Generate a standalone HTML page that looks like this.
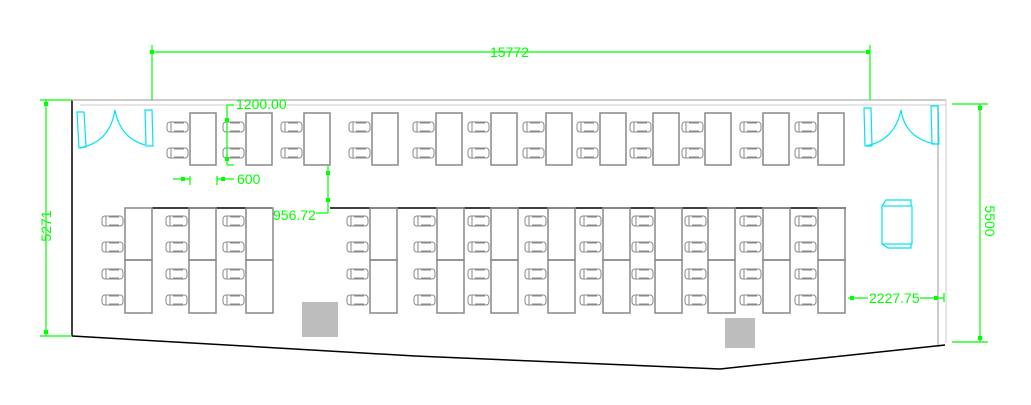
<!DOCTYPE html>
<html><head><meta charset="utf-8"><style>
html,body{margin:0;padding:0;background:#fff;}
svg{display:block;}
text{font-family:"Liberation Sans",sans-serif;font-size:14px;fill:#00ff00;}
</style></head><body>
<svg id="s" width="1031" height="405" viewBox="0 0 1031 405" xmlns="http://www.w3.org/2000/svg">
<defs>
<g id="ch" fill="none" stroke="#888" stroke-width="1">
<rect x="0" y="0" width="21" height="10" rx="3"/>
<line x1="4" y1="0" x2="4" y2="10"/>
<line x1="7" y1="1" x2="17" y2="1"/><line x1="7" y1="9" x2="17" y2="9"/>
</g>
</defs>
<polyline points="72,336 72,100" fill="none" stroke="#000" stroke-width="1.5"/>
<line x1="72" y1="100" x2="946" y2="100" stroke="#bbb" stroke-width="1.5"/>
<line x1="80" y1="105" x2="946" y2="105" stroke="#ccc" stroke-width="1"/>
<line x1="938" y1="105" x2="938" y2="347" stroke="#bbb" stroke-width="1.5"/>
<line x1="946" y1="100" x2="946" y2="343" stroke="#ccc" stroke-width="1"/>
<polyline points="72,336 415,356 720,369 945,345" fill="none" stroke="#000" stroke-width="1.5"/>
<line x1="152" y1="208" x2="272" y2="208" stroke="#000" stroke-width="1.5"/>
<line x1="330" y1="208" x2="846" y2="208" stroke="#000" stroke-width="1.5"/>
<g id="furn"></g>
<rect x="302" y="302" width="36" height="35" fill="#bdbdbd"/>
<rect x="725" y="318" width="30" height="30" fill="#bdbdbd"/>
<g fill="none" stroke="#00e5ee" stroke-width="1.2">
<path d="M77,112 L84,112 L86,147 L79,148 Z"/>
<path d="M80,148 Q110,142 115,110 Q120,138 145,145"/>
<path d="M145,110 L152,110 L153,146 L146,146 Z"/>
<path d="M864,108 L871,108 L872,146 L865,146 Z"/>
<path d="M866,146 Q895,140 901,110 Q905,138 935,144"/>
<path d="M931,106 L938,106 L939,144 L932,144 Z"/>
<rect x="882" y="206" width="30" height="38"/>
<path d="M882,206 L886,200 L911,200 L911,206 M882,244 L888,248 L911,248 L911,244"/>
</g>
<g stroke="#00ff00" stroke-width="1.2" fill="none">
<line x1="152" y1="52" x2="870" y2="52"/>
<line x1="152" y1="45" x2="152" y2="100"/><line x1="870" y1="45" x2="870" y2="100"/>
<line x1="46" y1="100" x2="46" y2="336"/>
<line x1="40" y1="100" x2="72" y2="100"/><line x1="40" y1="336" x2="72" y2="336"/>
<line x1="980" y1="104" x2="980" y2="342"/>
<line x1="952" y1="104" x2="988" y2="104"/><line x1="952" y1="342" x2="988" y2="342"/>
<line x1="227" y1="113" x2="227" y2="165"/>
<polyline points="227,113 227,105 234,105"/>
<line x1="227" y1="165" x2="234" y2="165"/>
<line x1="173" y1="179" x2="190" y2="179"/><line x1="190" y1="176" x2="190" y2="185"/>
<line x1="217" y1="179" x2="234" y2="179"/><line x1="217" y1="176" x2="217" y2="185"/>
<line x1="328" y1="165" x2="328" y2="213"/>
<line x1="316" y1="213" x2="328" y2="213"/>
<line x1="848" y1="298" x2="868" y2="298"/><line x1="920" y1="298" x2="944" y2="298"/>
<line x1="944" y1="293" x2="944" y2="302"/>
</g>
<g fill="#00ff00">
<rect x="150" y="50" width="4" height="4"/><rect x="866" y="50" width="4" height="4"/>
<rect x="44" y="102" width="4" height="4"/><rect x="44" y="330" width="4" height="4"/>
<rect x="978" y="106" width="4" height="4"/><rect x="978" y="336" width="4" height="4"/>
<rect x="225" y="118" width="4" height="4"/><rect x="225" y="157" width="4" height="4"/>
<rect x="181" y="177" width="4" height="4"/><rect x="221" y="177" width="4" height="4"/>
<rect x="326" y="171" width="4" height="4"/><rect x="326" y="198" width="4" height="4"/>
<rect x="850" y="296" width="4" height="4"/><rect x="934" y="296" width="4" height="4"/>
</g>
<text x="490" y="57">15772</text>
<text x="236" y="109">1200.00</text>
<text x="237" y="184">600</text>
<text x="273" y="220">956.72</text>
<text x="869" y="303">2227.75</text>
<text transform="translate(51,226) rotate(-90)" text-anchor="middle">5271</text>
<text transform="translate(985,221) rotate(90)" text-anchor="middle">5500</text>
</svg>
<script>
(function(){
var f=document.getElementById('furn'),h='';
var tops=[190,246,304,372,436,491,546,600,653,705,763,818];
tops.forEach(function(x){
 h+='<rect x="'+x+'" y="113" width="26" height="52" fill="none" stroke="#888" stroke-width="1.5"/>';
 h+='<use href="#ch" x="'+(x-23)+'" y="122"/><use href="#ch" x="'+(x-23)+'" y="148"/>';
});
var bots=[125,189,246,370,437,491,548,603,655,708,763,818];
bots.forEach(function(x){
 h+='<rect x="'+x+'" y="208" width="27" height="52" fill="none" stroke="#888" stroke-width="1.5"/>';
 h+='<rect x="'+x+'" y="260" width="27" height="53" fill="none" stroke="#888" stroke-width="1.5"/>';
 [216,242,269,295].forEach(function(y){h+='<use href="#ch" x="'+(x-23)+'" y="'+y+'"/>';});
});
f.innerHTML=h;
})();
</script>
</body></html>
